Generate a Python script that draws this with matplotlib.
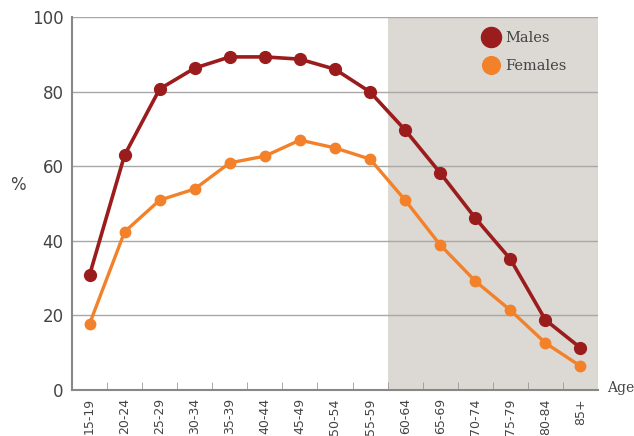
import matplotlib.pyplot as plt
import numpy as np

ages = ['15-19', '20-24', '25-29', '30-34', '35-39', '40-44', '45-49', '50-54',
        '55-59', '60-64', '65-69', '70-74', '75-79', '80-84', '85+']
males = [30.8, 63.0, 80.7, 86.3, 89.3, 89.3, 88.7, 86.0, 79.9, 69.7, 58.2, 46.1, 35.1, 18.8, 11.3]
females = [17.7, 42.4, 50.9, 53.9, 60.9, 62.7, 67.0, 64.9, 61.9, 50.9, 38.9, 29.2, 21.4, 12.6, 6.4]

x = np.arange(len(ages))

fig = plt.figure(figsize=(6.34, 4.36), dpi=100)
ax = fig.add_axes([72/634, 46/436, 526/634, 373/436])

# shaded block for the older age groups
ax.axvspan(8.5, 14.5, color='#dcd8d3', zorder=0, lw=0)

for v in [20, 40, 60, 80, 100]:
    ax.axhline(v, color='#a8a8a8', lw=1, zorder=1)

ax.plot(x, males, color='#9b1c1c', lw=2.6, marker='o', ms=8.5, zorder=4, label='Males')
ax.plot(x, females, color='#f3812a', lw=2.4, marker='o', ms=7.5, zorder=3, label='Females')

ax.set_xlim(-0.5, 14.5)
ax.set_ylim(0, 100)
ax.set_yticks([0, 20, 40, 60, 80, 100])
ax.tick_params(axis='y', length=0, labelsize=12, labelcolor='#444444', pad=6)

ax.set_xticks(x)
ax.set_xticklabels(ages, rotation=90, fontsize=9, color='#444444')
ax.tick_params(axis='x', which='major', length=0, pad=6)
ax.set_xticks(np.arange(0.5, 14.5, 1), minor=True)
ax.tick_params(axis='x', which='minor', direction='in', length=6, color='#999999')

for s in ['top', 'right']:
    ax.spines[s].set_visible(False)
ax.spines['left'].set_color('#888888')
ax.spines['bottom'].set_color('#888888')
ax.spines['left'].set_linewidth(1.5)
ax.spines['bottom'].set_linewidth(1.5)

fig.text(18/634, 1 - 185/436, '%', fontsize=12, color='#444444', ha='center', va='center')
fig.text(607/634, 1 - 388/436, 'Age', fontsize=10, color='#444444', family='DejaVu Serif',
         ha='left', va='center')

leg = ax.legend(loc='upper left', bbox_to_anchor=(0.76, 0.997), frameon=False,
                prop={'family': 'DejaVu Serif', 'size': 10.5}, handlelength=0.9,
                handletextpad=0.5, labelspacing=0.95, markerscale=1.7)
for h in leg.legend_handles:
    h.set_linestyle('none')
for t in leg.get_texts():
    t.set_color('#444444')

fig.savefig('out.png', dpi=100)
